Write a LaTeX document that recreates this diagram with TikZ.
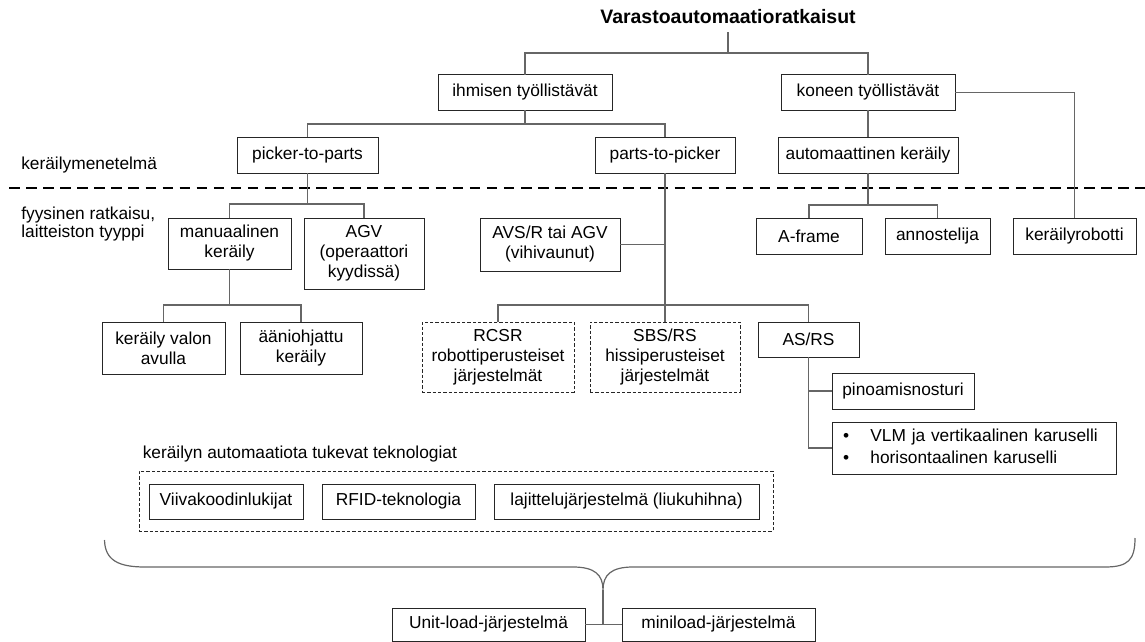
\documentclass[tikz,border=0pt]{standalone}
\usepackage{fontspec}
\setmainfont{Liberation Sans}
% box from pixel corners: [style]{name}{x1}{y1}{x2}{y2}{text}
\newcommand\pxbox[7][]{%
  \pgfmathsetmacro\pxbw{(#5-#3)*0.75}%
  \pgfmathsetmacro\pxbh{(#6-#4)*0.75}%
  \pgfmathsetmacro\pxbcx{(#3+#5)/2}%
  \pgfmathsetmacro\pxbcy{(#4+#6)/2}%
  \node[box,#1,minimum width=\pxbw pt,minimum height=\pxbh pt] (#2) at (\pxbcx,\pxbcy) {#7};}
\begin{document}
\begin{tikzpicture}[x=0.75pt,y=-0.75pt,
  every node/.style={font=\fontsize{13}{15}\selectfont},
  box/.style={draw=black!85, line width=0.75pt, inner sep=0pt, outer sep=0pt, align=center, fill=white},
  dbox/.style={dash pattern=on 2.4pt off 1.6pt},
  conn/.style={draw=black!60, line width=0.9pt},
  sep/.style={draw=black, line width=1.65pt, dash pattern=on 7.9pt off 4.9pt},
  lbl/.style={anchor=west, inner sep=0pt, align=left}]
\useasboundingbox (0,0) rectangle (1145,642);

% separator line
\coordinate (s0) at (9,188);
\coordinate (s1) at (1145,188);
\draw[sep] (s0) -- (s1);

% labels
\node[lbl] (lmet) at (21,165) {keräilymenetelmä};
\node[lbl, font=\fontsize{13}{13.8}\selectfont] (lfys) at (21,224) {fyysinen ratkaisu,\\laitteiston tyyppi};
\node[lbl] (ltek) at (142.5,454) {keräilyn automaatiota tukevat teknologiat};

% title
\node[font=\fontsize{14.6}{17}\selectfont\bfseries, inner sep=0pt] (title) at (728,17) {Varastoautomaatioratkaisut};

% level 1
\pxbox{ih}{438}{75}{612}{110}{ihmisen työllistävät}
\pxbox{ko}{781}{75}{955}{110}{koneen työllistävät}

% level 2
\pxbox{ptp}{237}{137}{378}{173}{picker-to-parts}
\pxbox{ptpk}{595}{137}{735}{173}{parts-to-picker}
\pxbox{auto}{778}{137}{958}{173}{automaattinen keräily}

% level 3
\pxbox{man}{168}{218}{291}{269}{manuaalinen\\keräily}
\pxbox{agv}{304}{218}{424}{289}{AGV\\(operaattori\\kyydissä)}
\pxbox{avsr}{480}{218}{620}{271}{AVS/R tai AGV\\(vihivaunut)}
\pxbox{af}{756}{218}{862}{254}{A-frame}
\pxbox{an}{885}{218}{990}{254}{annostelija}
\pxbox{robot}{1013}{218}{1136}{254}{keräilyrobotti}

% level 4
\pxbox{valo}{102}{322}{225}{374}{keräily valon\\avulla}
\pxbox{aani}{240}{322}{362}{374}{ääniohjattu\\keräily}
\pxbox[dbox]{rcsr}{422}{322}{574}{392}{RCSR\\robottiperusteiset\\järjestelmät}
\pxbox[dbox]{sbs}{590}{322}{740}{392}{SBS/RS\\hissiperusteiset\\järjestelmät}
\pxbox{asrs}{758}{322}{859}{357}{AS/RS}
\pxbox{pino}{832}{373}{974}{409}{pinoamisnosturi}
\node[box, anchor=north west, minimum width=213pt, minimum height=39pt,
      text width=196.5pt, align=left, inner xsep=8.25pt,
      font=\fontsize{13}{16.5}\selectfont] (vlm) at (832,422)
  {\begin{tabular}{@{}l@{\hspace{16pt}}l@{}}•&VLM ja vertikaalinen karuselli\\ •&horisontaalinen karuselli\end{tabular}};

% technologies
\pxbox[dbox, fill=none]{tech}{139}{471}{773}{531}{}
\pxbox{viiv}{149}{484}{303}{519}{Viivakoodinlukijat}
\pxbox{rfid}{322}{484}{475}{519}{RFID-teknologia}
\pxbox{lajit}{494}{484}{759}{519}{lajittelujärjestelmä (liukuhihna)}

% bottom
\pxbox{unit}{392}{608}{585}{641}{Unit-load-järjestelmä}
\pxbox{mini}{622}{608}{815}{641}{miniload-järjestelmä}

% connectors
\coordinate (j0) at (728,53);
\draw[conn] ([yshift=-6pt]title.south) -- (j0);
\draw[conn] (ih.north) |- (j0) -| (ko.north);
\draw[conn] (ih.south) -- ++(0,14) coordinate (j1);
\draw[conn] (ptp.north) |- (j1) -| (ptpk.north);
\draw[conn] (ko.east) -| (robot.north);
\draw[conn] (ko.south) -- (auto.north);
\draw[conn] (auto.south) -- ++(0,32) coordinate (j2);
\draw[conn] (af.north) |- (j2) -| (an.north);
\draw[conn] (ptp.south) -- ++(0,31) coordinate (j3);
\draw[conn] (man.north) |- (j3) -| (agv.north);
\draw[conn] (man.south) -- ++(0,36) coordinate (j4);
\draw[conn] (valo.north) |- (j4) -| (aani.north);
\draw[conn] (ptpk.south) -- (sbs.north);
\coordinate (j5) at (665,305);
\draw[conn] (rcsr.north) |- (j5) -| (asrs.north);
\draw[conn] (avsr.east) -- (avsr.east -| sbs.north);
\draw[conn] (asrs.south) |- (pino.west);
\draw[conn] (asrs.south) |- (vlm.west);

% brace
\coordinate (bl) at (104.5,540);
\coordinate (br) at (1135,538);
\coordinate (bt) at (603,590);
\draw[conn] (bl) .. controls (105,560) and (118,567) .. (145,567) -- (573,567)
  .. controls (595,567) and (603,575) .. (bt)
  .. controls (603,575) and (611,567) .. (633,567) -- (1105,567)
  .. controls (1128,567) and (1135,560) .. (br);
\draw[conn] (bt) -- (bt |- unit.east);
\draw[conn] (unit.east) -- (mini.west);
\end{tikzpicture}
\end{document}
